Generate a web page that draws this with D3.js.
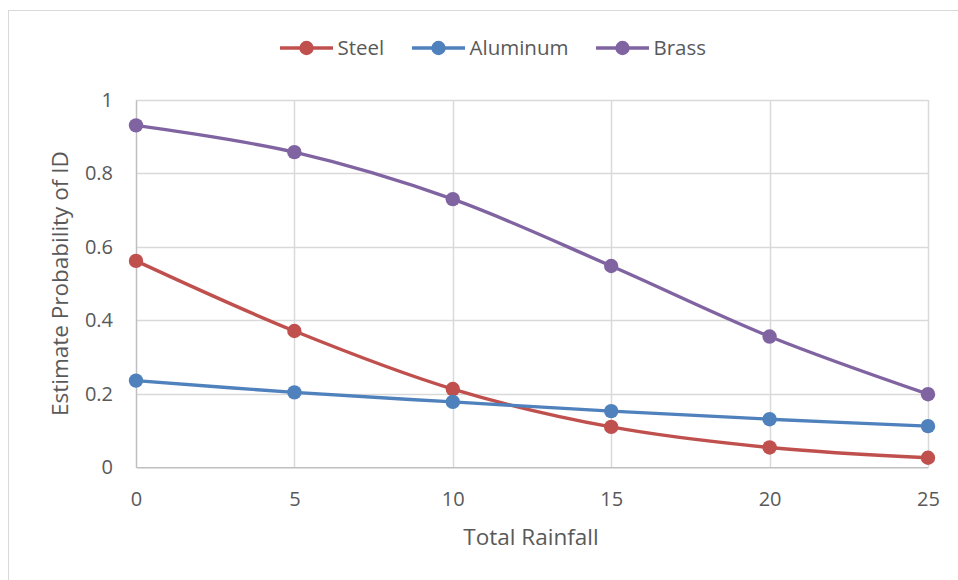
<!DOCTYPE html>
<html>
<head>
<meta charset="utf-8">
<script src="https://cdn.jsdelivr.net/npm/d3@7"></script>
<style>
  html, body { margin: 0; padding: 0; background: #fff; }
  svg { display: block; font-family: "Open Sans", "Noto Sans", sans-serif; }
</style>
</head>
<body>
<svg id="chart" width="958" height="580"></svg>
<script>
// Rainfall levels on the x axis
const rainfall = [0, 5, 10, 15, 20, 25];
// Estimated probability for each metal
const steel    = [0.562, 0.371, 0.213, 0.110, 0.054, 0.026];
const aluminum = [0.236, 0.204, 0.178, 0.153, 0.131, 0.112];
const brass    = [0.931, 0.858, 0.730, 0.548, 0.356, 0.199];
const seriesNames = ["Steel", "Aluminum", "Brass"];
const seriesColors = ["#C0504D", "#4F81BD", "#8064A2"];
const xTicks = [0, 5, 10, 15, 20, 25];
const yTicks = [0, 0.2, 0.4, 0.6, 0.8, 1];

const series = [steel, aluminum, brass].map((vals, i) => ({
  name: seriesNames[i],
  color: seriesColors[i],
  points: vals.map((v, j) => ({ x: rainfall[j], y: v }))
}));

const svg = d3.select("#chart");
const plotLeft = 136, plotRight = 928, plotTop = 100, plotBottom = 467.3;
const textColor = "#595959";

// chart frame
svg.append("rect")
  .attr("x", 8.5).attr("y", 10.5)
  .attr("width", 960).attr("height", 580)
  .attr("fill", "#fff").attr("stroke", "#D9D9D9").attr("stroke-width", 1);

const x = d3.scaleLinear().domain([0, 25]).range([plotLeft, plotRight]);
const y = d3.scaleLinear().domain([0, 1]).range([plotBottom, plotTop]);

// gridlines
const grid = svg.append("g");
grid.selectAll("line.h").data(yTicks.filter(d => d > 0)).join("line")
  .attr("x1", plotLeft).attr("x2", plotRight)
  .attr("y1", d => Math.round(y(d)) + 0.5).attr("y2", d => Math.round(y(d)) + 0.5)
  .attr("stroke", "#D9D9D9").attr("stroke-width", 1.5);
grid.selectAll("line.v").data(xTicks.filter(d => d > 0)).join("line")
  .attr("y1", plotTop).attr("y2", plotBottom)
  .attr("x1", d => Math.round(x(d)) + 0.5).attr("x2", d => Math.round(x(d)) + 0.5)
  .attr("stroke", "#D9D9D9").attr("stroke-width", 1.5);

// axes
const xAxis = svg.append("g")
  .attr("transform", `translate(0,${plotBottom})`)
  .call(d3.axisBottom(x).tickValues(xTicks).tickSize(0).tickPadding(24.5).tickFormat(d3.format("d")));
xAxis.select(".domain").attr("stroke", "#BFBFBF").attr("stroke-width", 1.5);

const yAxis = svg.append("g")
  .attr("transform", `translate(${plotLeft},0)`)
  .call(d3.axisLeft(y).tickValues(yTicks).tickSize(0).tickPadding(23).tickFormat(d => String(+d.toFixed(1))));
yAxis.select(".domain").attr("stroke", "#BFBFBF").attr("stroke-width", 1.5);

svg.selectAll(".tick text")
  .attr("fill", textColor).attr("font-size", 20)
  .attr("font-family", "'Open Sans', 'Noto Sans', sans-serif");

// axis titles
svg.append("text")
  .attr("x", (plotLeft + plotRight) / 2 - 1).attr("y", 545)
  .attr("text-anchor", "middle").attr("fill", textColor).attr("font-size", 22.5)
  .text("Total Rainfall");
svg.append("text")
  .attr("transform", `translate(68,${(plotTop + plotBottom) / 2}) rotate(-90)`)
  .attr("text-anchor", "middle").attr("fill", textColor).attr("font-size", 22.5)
  .text("Estimate Probability of ID");

// smoothed lines
const line = d3.line()
  .x(d => x(d.x)).y(d => y(d.y))
  .curve(d3.curveCatmullRom.alpha(0.5));

const sg = svg.append("g").selectAll("g").data(series).join("g");
sg.append("path")
  .attr("d", d => line(d.points))
  .attr("fill", "none").attr("stroke", d => d.color)
  .attr("stroke-width", 3.4).attr("stroke-linecap", "round");
sg.selectAll("circle").data(d => d.points.map(p => ({ ...p, color: d.color }))).join("circle")
  .attr("cx", d => x(d.x)).attr("cy", d => y(d.y)).attr("r", 7.2)
  .attr("fill", d => d.color);

// legend
const legendX = [280, 412, 596];
const legend = svg.append("g").selectAll("g").data(series).join("g")
  .attr("transform", (d, i) => `translate(${legendX[i]},48)`);
legend.append("line")
  .attr("x1", 0).attr("x2", 53).attr("y1", 0).attr("y2", 0)
  .attr("stroke", d => d.color).attr("stroke-width", 3.4);
legend.append("circle")
  .attr("cx", 26.5).attr("cy", 0).attr("r", 7.2).attr("fill", d => d.color);
legend.append("text")
  .attr("x", 57.5).attr("y", 0).attr("dy", "0.36em")
  .attr("fill", textColor).attr("font-size", 20.5)
  .text(d => d.name);
</script>
</body>
</html>
